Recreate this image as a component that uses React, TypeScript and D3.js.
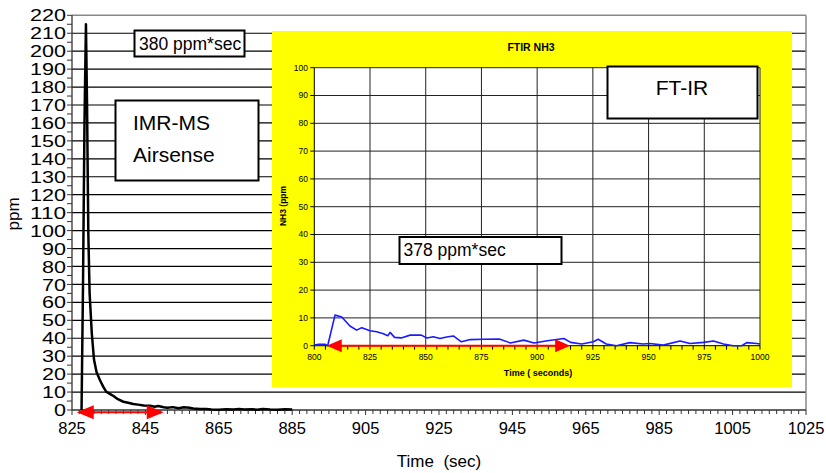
import * as d3 from "d3";

// main chart (IMR-MS Airsense) – time in sec, ppm
const mainTime = [827.6, 828.0, 828.4, 828.8, 829.1, 829.45, 829.8, 830.4, 831.0, 831.7, 832.6, 833.5, 834.3, 835.3, 836.3, 837.5, 839.0, 840.3, 841.7, 843.0, 844.5, 846.3, 847.5, 848.5, 850.0, 851.0, 852.5, 854.0, 855.5, 857.0, 858.0, 859.9, 861.5, 863.0, 865.0, 867.0, 869.0, 870.5, 872.0, 874.0, 875.5, 877.0, 879.0, 881.0, 883.0, 885.0];
const mainPpm = [0, 70, 160, 215, 170, 98, 65, 42.6, 28, 21, 16.7, 13, 10.2, 9, 7.8, 6, 4.6, 4, 3.3, 3, 2.5, 2.4, 1.8, 2.2, 1.5, 1.2, 1.6, 1, 1.5, 1.3, 0.8, 0.5, 0.6, 0.3, 0.2, 0.4, 0.3, 0.6, 0.3, 0.4, 0.2, 0.5, 0.3, 0.2, 0.4, 0.3];

// inset chart (FTIR NH3)
const ftirTime = [800, 802, 804.8, 806, 809.3, 812.3, 816, 819, 821.3, 825, 828, 831, 833, 834, 836, 839, 843, 848, 850.5, 853.4, 856.4, 859.4, 862.4, 866, 870, 876, 883, 888, 894, 898.6, 904.6, 912, 915, 920, 925.2, 927.4, 931, 935.6, 941.6, 947.6, 950.6, 956.6, 964.1, 968.6, 974.6, 979.1, 983.6, 988, 991.8, 994, 998.5, 1000];
const ftirPpm = [0.25, 0.5, 0.5, 0, 11, 10.3, 7.1, 5.6, 6.5, 5.4, 5, 4.3, 3.6, 4.8, 3, 2.8, 3.8, 3.8, 2.8, 3.2, 2.6, 3.1, 3.5, 1.4, 2.2, 2.3, 2.4, 1, 2, 1, 1.8, 2.6, 1.2, 0.6, 1.4, 2.3, 0.6, 0, 1.1, 0.6, 0.8, 0.2, 1.7, 0.8, 1.2, 1.7, 0.6, 0, 0, 1.1, 0.8, 0.6];

// integration range arrows
const mainArrow = [826.3, 850.0];
const ftirArrow = [805.6, 914.8];

const mainXTicks = [825, 845, 865, 885, 905, 925, 945, 965, 985, 1005, 1025];
const ftirXTicks = [800, 825, 850, 875, 900, 925, 950, 975, 1000];

const font = "'Liberation Sans', Arial, sans-serif";

export default function App() {
  const x = d3.scaleLinear().domain([825, 1025]).range([72, 806]);
  const y = d3.scaleLinear().domain([0, 220]).range([410, 15.3]);
  const ix = d3.scaleLinear().domain([800, 1000]).range([314.3, 760]);
  const iy = d3.scaleLinear().domain([0, 100]).range([345.7, 67.7]);

  const mainLine = d3.line<number>().x((d, i) => x(mainTime[i])).y((d) => y(d));
  const ftirLine = d3.line<number>().x((d, i) => ix(ftirTime[i])).y((d) => iy(d));

  const yTicks = d3.range(0, 221, 10);
  const yMinor = d3.range(0, 221, 5);
  const xMinor = d3.range(825, 1025.1, 2);
  const iyTicks = d3.range(0, 101, 10);
  const ixMinor = d3.range(800, 1000.1, 5);

  const arrowHead = (tipX: number, tipY: number, dir: number, len: number, h: number) =>
    `M${tipX},${tipY} L${tipX + dir * len},${tipY - h / 2} L${tipX + dir * len},${tipY + h / 2} Z`;

  return (
    <svg width={826} height={473} style={{ position: "absolute", left: 0, top: 0, background: "#fff" }} fontFamily={font}>
      {/* main gridlines */}
      {yTicks.slice(1, -1).map((t) => (
        <line key={"g" + t} x1={x(825)} x2={x(1025)} y1={y(t)} y2={y(t)} stroke="#000" strokeWidth={1.2} />
      ))}
      <line x1={x(825)} x2={x(1025)} y1={y(220)} y2={y(220)} stroke="#888" strokeWidth={1.5} />
      <line x1={x(1025)} x2={x(1025)} y1={y(220)} y2={y(0)} stroke="#888" strokeWidth={1.5} />

      {/* main axes */}
      <line x1={x(825)} x2={x(825)} y1={y(220)} y2={y(0)} stroke="#333" strokeWidth={1.3} />
      <line x1={x(825)} x2={x(1025)} y1={y(0)} y2={y(0)} stroke="#333" strokeWidth={1.3} />
      {yMinor.map((t) => (
        <line key={"yt" + t} x1={x(825) - 5} x2={x(825)} y1={y(t)} y2={y(t)} stroke="#333" strokeWidth={1} />
      ))}
      {xMinor.map((t) => (
        <line key={"xt" + t} x1={x(t)} x2={x(t)} y1={y(0)} y2={y(0) + ((t - 825) % 20 === 0 ? 5 : 4)} stroke="#333" strokeWidth={1} />
      ))}
      {yTicks.map((t) => (
        <text key={"yl" + t} x={66} y={y(t)} dy="0.36em" textAnchor="end" fontSize={17}
          textLength={String(t).length * 12} lengthAdjust="spacingAndGlyphs">{t}</text>
      ))}
      {mainXTicks.map((t) => (
        <text key={"xl" + t} x={x(t)} y={434} textAnchor="middle" fontSize={16.5}>{t}</text>
      ))}
      <text x={439} y={467} textAnchor="middle" fontSize={17}>{"Time\u00a0\u00a0(sec)"}</text>
      <text transform="translate(19,214) rotate(-90)" textAnchor="middle" fontSize={17}>ppm</text>

      {/* main series */}
      <path d={mainLine(mainPpm) || ""} fill="none" stroke="#000" strokeWidth={2.5} strokeLinejoin="round" />

      {/* main arrow */}
      <line x1={x(mainArrow[0]) + 10} x2={x(mainArrow[1]) - 10} y1={412.3} y2={412.3} stroke="#f00" strokeWidth={2} />
      <path d={arrowHead(x(mainArrow[0]), 412.3, 1, 17, 14)} fill="#f00" />
      <path d={arrowHead(x(mainArrow[1]), 412.3, -1, 17, 14)} fill="#f00" />

      {/* annotations main */}
      <rect x={134.5} y={30.5} width={110} height={26} fill="#fff" stroke="#000" strokeWidth={2} />
      <text x={139} y={50} fontSize={17.5}>380 ppm*sec</text>
      <rect x={115.5} y={100.5} width={143} height={80} fill="#fff" stroke="#000" strokeWidth={2} />
      <text x={133} y={130} fontSize={21}>IMR-MS</text>
      <text x={133} y={162} fontSize={21}>Airsense</text>

      {/* inset */}
      <rect x={272} y={31} width={520} height={356} fill="#ffff00" />
      <rect x={ix(800)} y={iy(100)} width={ix(1000) - ix(800)} height={iy(0) - iy(100)} fill="#fff" />
      {iyTicks.slice(1).map((t) => (
        <line key={"ig" + t} x1={ix(800)} x2={ix(1000)} y1={iy(t)} y2={iy(t)} stroke="#222" strokeWidth={1} />
      ))}
      {ftirXTicks.slice(1).map((t) => (
        <line key={"igx" + t} x1={ix(t)} x2={ix(t)} y1={iy(100)} y2={iy(0)} stroke="#222" strokeWidth={1} />
      ))}
      <line x1={ix(800)} x2={ix(800)} y1={iy(100)} y2={iy(0)} stroke="#000" strokeWidth={1} />
      <line x1={ix(800)} x2={ix(1000)} y1={iy(0)} y2={iy(0)} stroke="#000" strokeWidth={1} />
      {iyTicks.map((t) => (
        <line key={"iyt" + t} x1={ix(800) - 4} x2={ix(800)} y1={iy(t)} y2={iy(t)} stroke="#000" strokeWidth={1} />
      ))}
      {ixMinor.map((t) => (
        <line key={"ixt" + t} x1={ix(t)} x2={ix(t)} y1={iy(0)} y2={iy(0) + 4} stroke="#000" strokeWidth={1} />
      ))}
      {iyTicks.map((t) => (
        <text key={"iyl" + t} x={308} y={iy(t)} dy="0.35em" textAnchor="end" fontSize={8.5}>{t}</text>
      ))}
      {ftirXTicks.map((t) => (
        <text key={"ixl" + t} x={ix(t)} y={359.5} textAnchor="middle" fontSize={8.5}>{t}</text>
      ))}
      <text x={531} y={51} textAnchor="middle" fontSize={10.5} fontWeight="bold">FTIR NH3</text>
      <text x={538} y={376} textAnchor="middle" fontSize={9} fontWeight="bold">Time ( seconds)</text>
      <text transform="translate(286,206) rotate(-90)" textAnchor="middle" fontSize={8.5} fontWeight="bold">NH3 (ppm</text>

      <path d={ftirLine(ftirPpm) || ""} fill="none" stroke="#1a1aff" strokeWidth={1.6} strokeLinejoin="round" />

      {/* inset arrow */}
      <line x1={ix(ftirArrow[0]) + 10} x2={ix(ftirArrow[1]) - 10} y1={iy(0)} y2={iy(0)} stroke="#f00" strokeWidth={2} />
      <path d={arrowHead(ix(ftirArrow[0]), iy(0), 1, 15, 13)} fill="#f00" />
      <path d={arrowHead(ix(ftirArrow[1]), iy(0), -1, 15, 13)} fill="#f00" />

      {/* inset annotations */}
      <rect x={607.5} y={66.5} width={150} height={52} fill="#fff" stroke="#000" strokeWidth={2} />
      <text x={682} y={95} textAnchor="middle" fontSize={21}>FT-IR</text>
      <rect x={399.5} y={237} width={162} height={27} fill="#fff" stroke="#000" strokeWidth={2} />
      <text x={403.5} y={256} fontSize={17.5}>378 ppm*sec</text>
    </svg>
  );
}
